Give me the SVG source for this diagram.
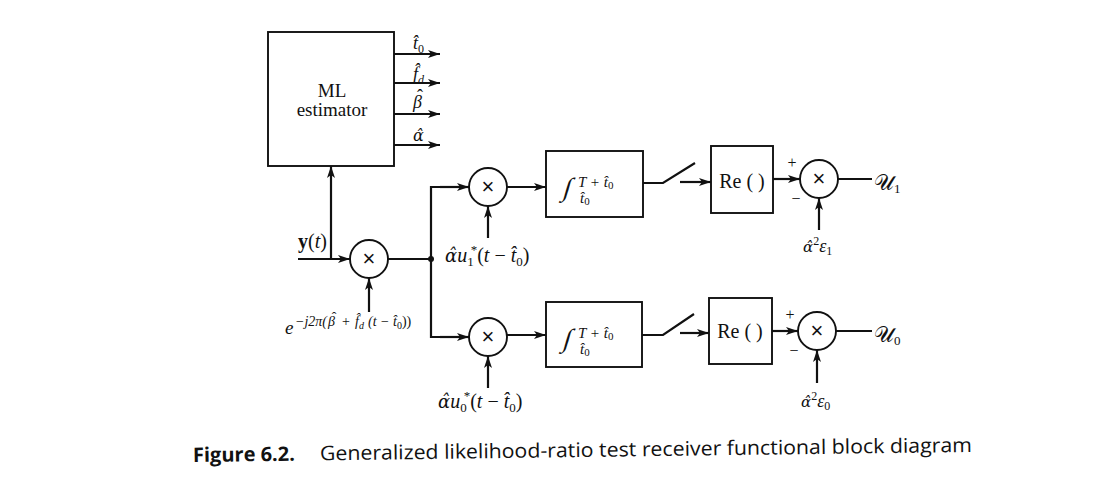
<svg xmlns="http://www.w3.org/2000/svg" width="1108" height="494" viewBox="0 0 1108 494">
<defs>
<marker id="ah" viewBox="0 0 12 8" refX="12" refY="4" markerWidth="12" markerHeight="8" markerUnits="userSpaceOnUse" orient="auto">
<path d="M0,0 L12,4 L0,8 L3,4 z" fill="#111"/>
</marker>
<style>
.ln{stroke:#111;stroke-width:2.2;fill:none}
.ar{stroke:#111;stroke-width:2.2;fill:none;marker-end:url(#ah)}
.bx{stroke:#111;stroke-width:1.9;fill:#fff}
.cr{stroke:#111;stroke-width:1.9;fill:#fff}
.t{font-family:"Liberation Serif","DejaVu Serif",serif;fill:#111}
.g{font-family:"DejaVu Serif",serif;font-style:italic}
.i{font-style:italic}
.n{font-style:normal}
.x{font-family:"Liberation Sans",sans-serif;font-size:22px;fill:#111;text-anchor:middle}
.cap{font-family:"Open Sans","Noto Sans",sans-serif;font-size:20px;fill:#111}
</style>
</defs>
<rect width="1108" height="494" fill="#fff"/>

<g id="connectors">
<line class="ar" x1="394" y1="54" x2="440" y2="54"/>
<line class="ar" x1="394" y1="83" x2="440" y2="83"/>
<line class="ar" x1="394" y1="114" x2="440" y2="114"/>
<line class="ar" x1="394" y1="145" x2="440" y2="145"/>
<line class="ar" x1="298" y1="259" x2="350" y2="259"/>
<line class="ar" x1="331" y1="259" x2="331" y2="166"/>
<line class="ar" x1="369" y1="312" x2="369" y2="278"/>
<line class="ln" x1="388" y1="259" x2="431" y2="259"/>
<polyline class="ln" points="469,187 431,187 431,337 469,337"/>
<line class="ar" x1="440" y1="187" x2="469" y2="187"/>
<line class="ar" x1="440" y1="337" x2="469" y2="337"/>
<circle cx="431" cy="259" r="3" fill="#111"/>
<line class="ar" x1="488" y1="238" x2="488" y2="206"/>
<line class="ar" x1="507" y1="187" x2="546" y2="187"/>
<polyline class="ln" points="643,183 663,183 695,163"/>
<line class="ar" x1="680" y1="182" x2="711" y2="182"/>
<line class="ar" x1="773" y1="179" x2="800" y2="179"/>
<line class="ar" x1="819" y1="230" x2="819" y2="198"/>
<line class="ln" x1="838" y1="179" x2="872" y2="179"/>
<line class="ar" x1="488" y1="388" x2="488" y2="356"/>
<line class="ar" x1="507" y1="335" x2="546" y2="335"/>
<polyline class="ln" points="642,335 663,335 694,314"/>
<line class="ar" x1="680" y1="333" x2="709" y2="333"/>
<line class="ar" x1="772" y1="331" x2="798" y2="331"/>
<line class="ar" x1="817" y1="383" x2="817" y2="350"/>
<line class="ln" x1="836" y1="331" x2="872" y2="331"/>
</g>

<g id="ml-estimator">
<rect class="bx" x="268" y="32" width="126" height="134"/>
<text class="t" x="332" y="97" font-size="19" text-anchor="middle">ML</text>
<text class="t" x="332" y="116" font-size="19" text-anchor="middle">estimator</text>
<text class="t i" x="413" y="49" font-size="18">t̂<tspan font-size="12" dy="4" class="n">0</tspan></text>
<text class="t i" x="413" y="80" font-size="18">f̂<tspan font-size="12" dy="4">d</tspan></text>
<text class="t i" x="413" y="108" font-size="18">β<tspan class="n" dx="-5" dy="-6">ˆ</tspan></text>
<text class="t g" x="413" y="141" font-size="16">α̂</text>
</g>

<g id="input">
<text class="t" x="298" y="248" font-size="20"><tspan font-weight="bold">y</tspan>(<tspan class="i">t</tspan>)</text>
</g>

<g id="mixer">
<circle class="cr" cx="369" cy="259" r="19"/>
<text class="x" x="369" y="266">×</text>
<text class="t i" x="285" y="334" font-size="19">e</text>
<text class="t i" y="326" font-size="14"><tspan x="295">−j2π(</tspan><tspan x="328">β</tspan><tspan class="n" dx="-3.3" dy="-4">ˆ</tspan><tspan x="342" dy="4" class="n">+</tspan><tspan x="355">f̂</tspan><tspan font-size="10" dy="3">d</tspan><tspan x="368" dy="-3">(t − t̂</tspan><tspan font-size="10" dy="3" class="n">0</tspan><tspan dy="-3" class="n">))</tspan></text>
</g>

<g id="mult-1">
<circle class="cr" cx="488" cy="187" r="19"/>
<text class="x" x="488" y="194">×</text>
<text class="t" x="445" y="262" font-size="20"><tspan class="g" font-size="18">α̂</tspan><tspan class="i">u</tspan><tspan font-size="13" dy="4">1</tspan><tspan font-size="13" dx="-3" dy="-12">*</tspan><tspan dy="8">(</tspan><tspan class="i">t</tspan> − <tspan class="i">t̂</tspan><tspan font-size="13" dy="4">0</tspan><tspan dy="-4">)</tspan></text>
</g>

<g id="integrator-1">
<rect class="bx" x="546" y="151" width="97" height="66"/>
<text class="t" font-size="26" transform="translate(562 196) skewX(-16)">∫</text>
<text class="t i" x="578" y="187" font-size="15">T + t̂<tspan font-size="11" dy="2" class="n">0</tspan></text>
<text class="t i" x="580" y="203" font-size="15">t̂<tspan font-size="11" dy="2" class="n">0</tspan></text>
</g>

<g id="re-1">
<rect class="bx" x="711" y="146" width="62" height="67"/>
<text class="t" x="742" y="188" font-size="20" text-anchor="middle">Re ( )</text>
</g>

<g id="sum-1">
<circle class="cr" cx="819" cy="179" r="19"/>
<text class="x" x="819" y="186">×</text>
<text class="t" x="792" y="168" font-size="16" text-anchor="middle">+</text>
<text class="t" x="796" y="204" font-size="16" text-anchor="middle">−</text>
<text class="t" x="803" y="252" font-size="18"><tspan class="g" font-size="15">α̂</tspan><tspan font-size="12" dy="-7">2</tspan><tspan class="i" dy="7">ε</tspan><tspan font-size="12" dy="3">1</tspan></text>
<text class="t" x="874" y="190" font-size="22">𝒰<tspan font-size="13" dy="3">1</tspan></text>
</g>

<g id="mult-0">
<circle class="cr" cx="488" cy="337" r="19"/>
<text class="x" x="488" y="344">×</text>
<text class="t" x="438" y="408" font-size="20"><tspan class="g" font-size="18">α̂</tspan><tspan class="i">u</tspan><tspan font-size="13" dy="4">0</tspan><tspan font-size="13" dx="-3" dy="-12">*</tspan><tspan dy="8">(</tspan><tspan class="i">t</tspan> − <tspan class="i">t̂</tspan><tspan font-size="13" dy="4">0</tspan><tspan dy="-4">)</tspan></text>
</g>

<g id="integrator-0">
<rect class="bx" x="546" y="302" width="96" height="65"/>
<text class="t" font-size="26" transform="translate(562 347) skewX(-16)">∫</text>
<text class="t i" x="578" y="338" font-size="15">T + t̂<tspan font-size="11" dy="2" class="n">0</tspan></text>
<text class="t i" x="580" y="354" font-size="15">t̂<tspan font-size="11" dy="2" class="n">0</tspan></text>
</g>

<g id="re-0">
<rect class="bx" x="709" y="298" width="63" height="66"/>
<text class="t" x="740" y="338" font-size="20" text-anchor="middle">Re ( )</text>
</g>

<g id="sum-0">
<circle class="cr" cx="817" cy="331" r="19"/>
<text class="x" x="817" y="338">×</text>
<text class="t" x="790" y="320" font-size="16" text-anchor="middle">+</text>
<text class="t" x="794" y="356" font-size="16" text-anchor="middle">−</text>
<text class="t" x="801" y="407" font-size="18"><tspan class="g" font-size="15">α̂</tspan><tspan font-size="12" dy="-7">2</tspan><tspan class="i" dy="7">ε</tspan><tspan font-size="12" dy="3">0</tspan></text>
<text class="t" x="874" y="342" font-size="22">𝒰<tspan font-size="13" dy="3">0</tspan></text>
</g>

<g id="caption" transform="rotate(-0.74 193 462)">
<text class="cap" x="193" y="462" font-weight="bold" textLength="102" lengthAdjust="spacingAndGlyphs">Figure 6.2.</text>
<text class="cap" x="320" y="462" textLength="652" lengthAdjust="spacingAndGlyphs">Generalized likelihood-ratio test receiver functional block diagram</text>
</g>
</svg>
